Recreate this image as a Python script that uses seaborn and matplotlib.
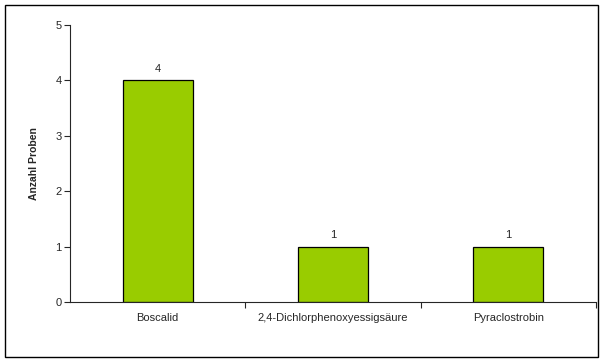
import matplotlib
matplotlib.use("Agg")
import matplotlib.pyplot as plt
import seaborn as sns
import pandas as pd
from matplotlib.patches import Rectangle

substances = ["Boscalid", "2,4-Dichlorphenoxyessigsäure", "Pyraclostrobin"]
counts = [4, 1, 1]

sns.set_style("ticks")
plt.rcParams["font.family"] = ["Liberation Sans", "DejaVu Sans"]

df = pd.DataFrame({"Wirkstoff": substances, "Anzahl": counts})

fig = plt.figure(figsize=(6.04, 3.62), dpi=100)
ax = fig.add_axes([70 / 604, 60 / 362, 526 / 604, 277 / 362])

sns.barplot(data=df, x="Wirkstoff", y="Anzahl", color="#99CC00", width=0.4,
            edgecolor="black", linewidth=0.9, saturation=1, ax=ax)

for i, v in enumerate(counts):
    ax.text(i, v + 0.12, str(v), ha="center", va="bottom", fontsize=8)

ax.set_xlim(-0.5, 2.5)
ax.set_ylim(0, 5)
ax.set_yticks(range(6))
ax.set_xlabel("")
ax.set_ylabel("Anzahl Proben", fontsize=7.5, fontweight="bold", labelpad=12)
ax.tick_params(axis="y", labelsize=8, length=4, width=0.8, pad=2)
ax.tick_params(axis="x", which="major", labelsize=8, length=0, pad=8)
ax.set_xticks([0.5, 1.5, 2.5], minor=True)
ax.tick_params(axis="x", which="minor", length=4, width=0.8)
sns.despine(ax=ax)
for s in ["left", "bottom"]:
    ax.spines[s].set_linewidth(0.8)

fig.patches.append(Rectangle((5 / 604, 5 / 362), 593 / 604, 352 / 362,
                             transform=fig.transFigure, fill=False,
                             edgecolor="black", linewidth=1))

fig.savefig("out.png", dpi=100)
